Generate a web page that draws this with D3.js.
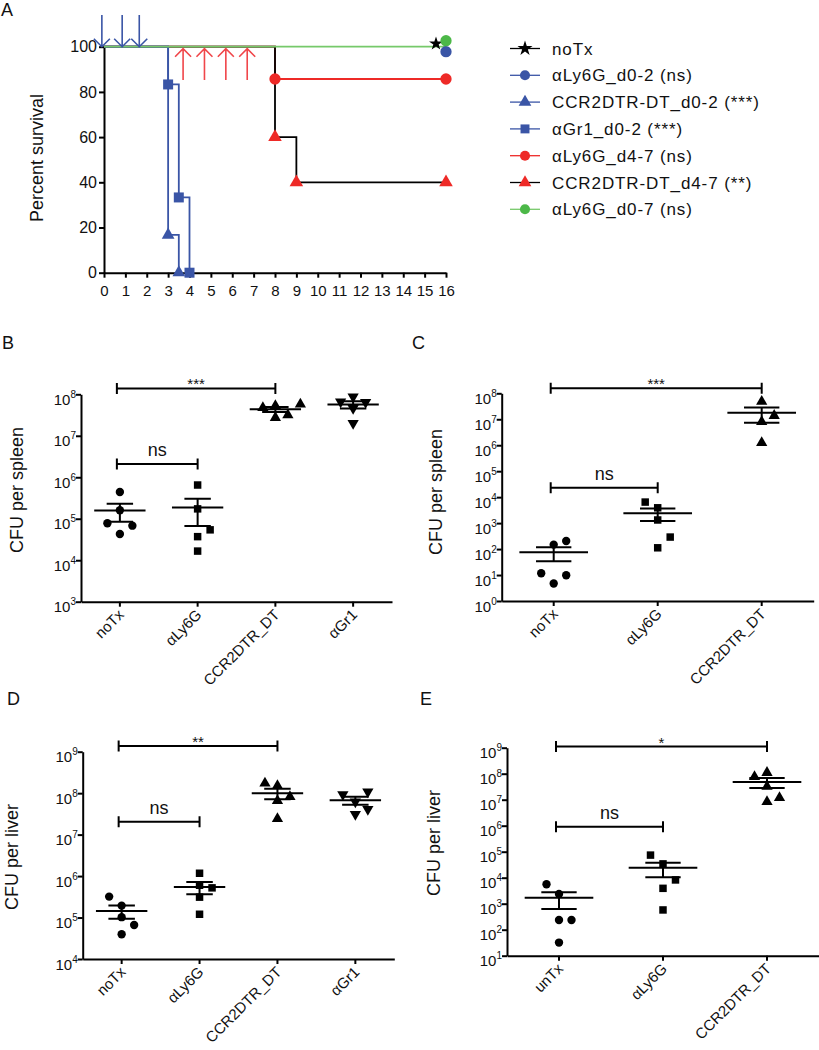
<!DOCTYPE html>
<html>
<head>
<meta charset="utf-8">
<script src="https://cdn.jsdelivr.net/npm/d3@7"></script>
<style>
body { margin: 0; background: #fff; }
svg text { font-family: "Liberation Sans", Arial, Helvetica, sans-serif; fill: #111; }
</style>
</head>
<body>
<script>
// ---------- panel A: survival (day, % survival) ----------
var survNoTx = [[0, 100], [16, 100]];
var survLy6G02 = [[0, 100], [16, 100]];
var survCcr02 = [[0, 100], [3, 16.7], [3.5, 0]];
var survGr102 = [[0, 100], [3, 83.3], [3.5, 33.3], [4, 0]];
var survLy6G47 = [[0, 100], [8, 85.7], [16, 85.7]];
var survCcr47 = [[0, 100], [8, 60], [9, 40], [16, 40]];
var survLy6G07 = [[0, 100], [16, 100]];
var blueArrowDays = [-0.1, 0.85, 1.65];
var redArrowDays = [3.7, 4.7, 5.7, 6.7];
var dayTicks = d3.range(0, 17);
var pctTicks = [0, 20, 40, 60, 80, 100];
var legendNames = ["noTx", "αLy6G_d0-2 (ns)", "CCR2DTR-DT_d0-2 (***)", "αGr1_d0-2 (***)",
  "αLy6G_d4-7 (ns)", "CCR2DTR-DT_d4-7 (**)", "αLy6G_d0-7 (ns)"];

// ---------- panels B-E: CFU per organ, one value per mouse ----------
var bGroups = ["noTx", "αLy6G", "CCR2DTR_DT", "αGr1"];
var bCFU = [[4.4e5, 1.6e5, 7.8e4, 6.8e4, 4.3e4],
  [6.5e5, 1.73e5, 5.4e4, 3.7e4, 1.66e4],
  [5.75e7, 5.3e7, 4.75e7, 3.17e7, 2.74e7],
  [8.7e7, 6.6e7, 6.4e7, 4.6e7, 2.0e7]];
var bSig = [{ a: 0, b: 2, at: 1.38e8, label: "***" }, { a: 0, b: 1, at: 2.09e6, label: "ns" }];

var cGroups = ["noTx", "αLy6G", "CCR2DTR_DT"];
var cCFU = [[204, 148, 11.7, 9.8, 4.7],
  [6460, 3890, 1320, 290, 112],
  [4.8e7, 1.38e7, 8.1e6, 1.25e6]];
var cSig = [{ a: 0, b: 2, at: 1.55e8, label: "***" }, { a: 0, b: 1, at: 2.29e4, label: "ns" }];

var dGroups = ["noTx", "αLy6G", "CCR2DTR_DT", "αGr1"];
var dCFU = [[3.2e5, 1.94e5, 1.02e5, 6.6e4, 3.96e4],
  [1.17e6, 6.0e5, 5.2e5, 3.1e5, 1.2e5],
  [1.74e8, 1.51e8, 8.2e7, 6.6e7, 2.4e7],
  [1.08e8, 9.3e7, 6.2e7, 4.1e7, 3.1e7]];
var dSig = [{ a: 0, b: 2, at: 1.38e9, label: "**" }, { a: 0, b: 1, at: 2.04e7, label: "ns" }];

var eGroups = ["unTx", "αLy6G", "CCR2DTR_DT"];
var eCFU = [[5620, 2350, 236, 236, 32],
  [7.4e4, 3.4e4, 8.2e3, 3.9e3, 575],
  [1.1e8, 7.7e7, 3.2e7, 1.2e7, 8.3e6]];
var eSig = [{ a: 0, b: 2, at: 1.1e9, label: "*" }, { a: 0, b: 1, at: 9.1e5, label: "ns" }];

var BLUE = "#3a55a6", RED = "#ee2a27", GREEN = "#4cb848", LGREEN = "#76c96a";

var svg = d3.select("body").append("svg").attr("width", 819).attr("height", 1050);

function sym(type, size) {
  return d3.symbol().type(type).size(size)();
}

// panel letters
[["A", 1, 16], ["B", 2, 349], ["C", 412, 349], ["D", 7, 705], ["E", 420, 705]].forEach(function (p) {
  svg.append("text").attr("x", p[1]).attr("y", p[2]).style("font-size", "18px").text(p[0]);
});

// ================= panel A =================
var ax = d3.scaleLinear().domain([0, 16]).range([104, 446]);
var ay = d3.scaleLinear().domain([0, 100]).range([272.7, 46.7]);
var gA = svg.append("g");

gA.append("g").attr("transform", "translate(0," + ay(0) + ")")
  .call(d3.axisBottom(ax).tickValues(dayTicks).tickSize(5).tickSizeOuter(0).tickPadding(8))
  .call(function (g) {
    g.selectAll("text").style("font-size", "15px").attr("fill", "#111");
  });
gA.append("g").attr("transform", "translate(" + ax(0) + ",0)")
  .call(d3.axisLeft(ay).tickValues(pctTicks).tickSize(5).tickSizeOuter(0).tickPadding(2))
  .call(function (g) {
    g.selectAll("text").style("font-size", "16px").attr("fill", "#111");
  });
gA.selectAll(".domain, .tick line").attr("stroke", "#000").attr("stroke-width", 2);

gA.append("text").attr("transform", "translate(43,158) rotate(-90)")
  .attr("text-anchor", "middle").style("font-size", "18px").text("Percent survival");

var stepLine = d3.line().x(function (d) { return ax(d[0]); }).y(function (d) { return ay(d[1]); })
  .curve(d3.curveStepAfter);

var curves = [
  { data: survLy6G47, line: RED },
  { data: survCcr47, line: "#000" },
  { data: survCcr02, line: BLUE },
  { data: survGr102, line: BLUE },
  { data: survLy6G07, line: LGREEN }
];
curves.forEach(function (c) {
  gA.append("path").attr("d", stepLine(c.data)).attr("fill", "none")
    .attr("stroke", c.line).attr("stroke-width", 1.8);
});

// event markers (drops), first point is the start
function marks(data, shape, size, color) {
  gA.selectAll(null).data(data.slice(1)).enter().append("path")
    .attr("d", sym(shape, size)).attr("fill", color)
    .attr("transform", function (d) { return "translate(" + ax(d[0]) + "," + ay(d[1]) + ")"; });
}
marks(survCcr02, d3.symbolTriangle, 70, BLUE);
marks(survGr102, d3.symbolSquare, 100, BLUE);
marks(survLy6G47, d3.symbolCircle, 100, RED);
marks(survCcr47, d3.symbolTriangle, 80, RED);

// censored end markers, nudged apart like the original
var endMarks = [
  { d: survNoTx[1], s: d3.symbolStar, c: "#000", dx: -10, dy: -3, size: 60 },
  { d: survLy6G02[1], s: d3.symbolCircle, c: BLUE, dx: 0, dy: 5, size: 100 },
  { d: survLy6G07[1], s: d3.symbolCircle, c: GREEN, dx: 0, dy: -6, size: 100 }
];
endMarks.forEach(function (m) {
  gA.append("path").attr("d", sym(m.s, m.size)).attr("fill", m.c)
    .attr("transform", "translate(" + (ax(m.d[0]) + m.dx) + "," + (ay(m.d[1]) + m.dy) + ")");
});

// treatment arrows
function arrow(day, color, down) {
  var x = ax(day);
  var tip = down ? ay(100) : ay(100) + 2;
  var tail = down ? 15 : 80;
  var hd = down ? -8 : 8;
  gA.append("path")
    .attr("d", "M" + x + "," + tail + "L" + x + "," + tip +
      "M" + (x - 8) + "," + (tip + hd) + "L" + x + "," + tip + "L" + (x + 8) + "," + (tip + hd))
    .attr("fill", "none").attr("stroke", color).attr("stroke-width", 1.6);
}
blueArrowDays.forEach(function (d) { arrow(d, BLUE, true); });
redArrowDays.forEach(function (d) { arrow(d, "#f0464a", false); });

// legend
var legStyle = [
  { line: "#000", fill: "#000", s: d3.symbolStar, size: 70 },
  { line: BLUE, fill: BLUE, s: d3.symbolCircle, size: 80 },
  { line: BLUE, fill: BLUE, s: d3.symbolTriangle, size: 70 },
  { line: BLUE, fill: BLUE, s: d3.symbolSquare, size: 80 },
  { line: RED, fill: RED, s: d3.symbolCircle, size: 80 },
  { line: "#000", fill: RED, s: d3.symbolTriangle, size: 70 },
  { line: LGREEN, fill: GREEN, s: d3.symbolCircle, size: 80 }
];
var leg = svg.append("g").selectAll("g").data(legendNames).enter().append("g")
  .attr("transform", function (d, i) { return "translate(510," + (48.5 + i * 26.8) + ")"; });
leg.append("line").attr("x1", 0).attr("x2", 30)
  .attr("stroke", function (d, i) { return legStyle[i].line; }).attr("stroke-width", 1.3);
leg.append("path").attr("transform", "translate(15,0)")
  .attr("d", function (d, i) { return sym(legStyle[i].s, legStyle[i].size); })
  .attr("fill", function (d, i) { return legStyle[i].fill; });
leg.append("text").attr("x", 42).attr("dy", "0.36em").style("font-size", "17px")
  .style("letter-spacing", "0.9px").text(function (d) { return d; });

// ================= scatter panels =================
function swarm(vals, y) {
  var pts = vals.map(function (v) { return { v: v, py: y(v), k: 0 }; });
  var order = pts.slice().sort(function (a, b) { return b.py - a.py; });
  var placed = [], pref = 1;
  order.forEach(function (p) {
    var tries = [0, pref, -pref, 2 * pref, -2 * pref];
    for (var t = 0; t < tries.length; t++) {
      var k = tries[t];
      var hit = placed.some(function (q) { return q.k === k && Math.abs(q.py - p.py) < 11; });
      if (!hit) { p.k = k; if (k !== 0) pref = k > 0 ? -1 : 1; break; }
    }
    placed.push(p);
  });
  return pts;
}

function scatterPanel(o) {
  var g = svg.append("g");
  var x = d3.scaleBand().domain(o.groups).range([o.x0, o.x1]);
  var y = d3.scaleLog().domain([Math.pow(10, o.exp[0]), Math.pow(10, o.exp[1])]).range([o.yb, o.yt]);
  var step = x.step();
  var cx = function (i) { return x(o.groups[i]) + step / 2; };

  var ticks = d3.range(o.exp[0], o.exp[1] + 1).map(function (e) { return Math.pow(10, e); });
  var ya = g.append("g").attr("transform", "translate(" + o.x0 + ",0)")
    .call(d3.axisLeft(y).tickValues(ticks).tickFormat("").tickSize(5).tickSizeOuter(0));
  ya.selectAll(".tick").append("text").attr("x", -5).attr("y", 10).attr("text-anchor", "end")
    .each(function (d) {
      var t = d3.select(this);
      t.append("tspan").style("font-size", "15px").text("10");
      t.append("tspan").attr("dy", -7).style("font-size", "10px").text(Math.round(Math.log10(d)));
    });
  var xa = g.append("g").attr("transform", "translate(0," + o.yb + ")")
    .call(d3.axisBottom(x).tickSize(5).tickSizeOuter(0).tickFormat(""));
  xa.selectAll(".tick").append("text")
    .attr("transform", "translate(5,14) rotate(-45)").attr("text-anchor", "end")
    .style("font-size", "15px").text(function (d) { return d; });
  g.selectAll(".domain, .tick line").attr("stroke", "#000").attr("stroke-width", 2);

  g.append("text").attr("transform", "translate(" + o.lx + "," + o.ly + ") rotate(-90)")
    .attr("text-anchor", "middle").style("font-size", "18px").text(o.title);

  var shapes = [d3.symbolCircle, d3.symbolSquare, d3.symbolTriangle, d3.symbolTriangle];
  o.values.forEach(function (vals, i) {
    var m = d3.mean(vals);
    var sem = d3.deviation(vals) / Math.sqrt(vals.length);
    var c = cx(i);
    var pts = swarm(vals, y);
    g.selectAll(null).data(pts).enter().append("path")
      .attr("d", sym(shapes[i], i === 1 ? 56 : 55)).attr("fill", "#000")
      .attr("transform", function (p) {
        return "translate(" + (c + p.k * 12.5) + "," + p.py + ")" + (i === 3 ? " rotate(180)" : "");
      });
    var mw = step * 0.33, sw = step * 0.17;
    var hi = y(m + sem), lo = y(Math.max(m - sem, Math.pow(10, o.exp[0])));
    g.append("path").attr("fill", "none").attr("stroke", "#000").attr("stroke-width", 2)
      .attr("d", "M" + (c - mw) + "," + y(m) + "H" + (c + mw) +
        "M" + c + "," + hi + "V" + lo +
        "M" + (c - sw) + "," + hi + "H" + (c + sw) +
        "M" + (c - sw) + "," + lo + "H" + (c + sw));
  });

  o.sig.forEach(function (s) {
    var x1 = cx(s.a) - 3, x2 = cx(s.b), yy = y(s.at);
    g.append("path").attr("fill", "none").attr("stroke", "#000").attr("stroke-width", 2)
      .attr("d", "M" + x1 + "," + (yy - 5.5) + "V" + (yy + 5.5) + "M" + x1 + "," + yy + "H" + x2 +
        "M" + x2 + "," + (yy - 5.5) + "V" + (yy + 5.5));
    var star = s.label !== "ns";
    g.append("text").attr("x", (x1 + x2) / 2).attr("y", star ? yy + 1 : yy - 8)
      .attr("text-anchor", "middle").style("font-size", star ? "15px" : "18px")
      .attr("fill", star ? "#333" : "#111").text(s.label);
  });
}

scatterPanel({ groups: bGroups, values: bCFU, sig: bSig, exp: [3, 8], title: "CFU per spleen",
  x0: 81, x1: 392, yt: 394.3, yb: 601.7, lx: 23, ly: 490 });
scatterPanel({ groups: cGroups, values: cCFU, sig: cSig, exp: [0, 8], title: "CFU per spleen",
  x0: 501.7, x1: 813.7, yt: 393.3, yb: 601, lx: 442, ly: 492 });
scatterPanel({ groups: dGroups, values: dCFU, sig: dSig, exp: [4, 9], title: "CFU per liver",
  x0: 82.7, x1: 394.3, yt: 751.7, yb: 959, lx: 18, ly: 857 });
scatterPanel({ groups: eGroups, values: eCFU, sig: eSig, exp: [1, 9], title: "CFU per liver",
  x0: 507, x1: 819, yt: 747.7, yb: 955.7, lx: 440, ly: 843 });
</script>
</body>
</html>
